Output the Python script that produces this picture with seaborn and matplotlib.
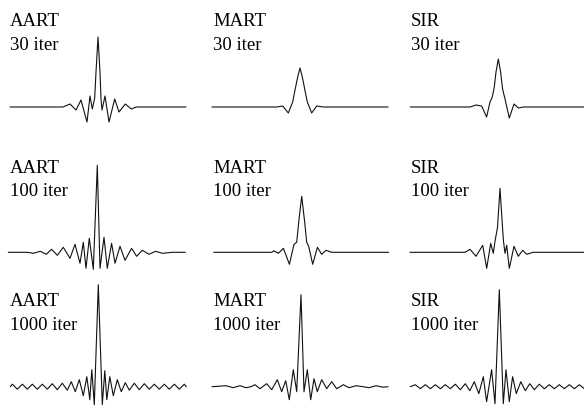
import matplotlib
matplotlib.use("Agg")
import matplotlib.pyplot as plt
import seaborn as sns
import pandas as pd

sns.set_theme(style="white")
plt.rcParams["font.family"] = ["Liberation Serif", "DejaVu Serif"]

methods = ["AART", "MART", "SIR"]
iterations = ["30 iter", "100 iter", "1000 iter"]

# profile samples: position (px from centre) and amplitude (px above baseline)
aart30_x = [-88, -40, -35, -28, -22, -17, -11, -8, -5.7, -3.3, -2, 0, 2, 3, 4, 7, 11, 16.7, 21, 27.3, 33.3, 38.3, 88]
aart30_y = [0, 0, 0, 3, -3, 7, -15, 11, -2, 9, 35, 70, 35, 8, -3, 11, -15, 8, -5, 3, -2, 0, 0]

mart30_x = [-88, -23, -17.3, -11.7, -7.3, -5, -2.3, 0, 2.3, 4.3, 7.3, 11.7, 16.7, 23.3, 88]
mart30_y = [0, 0, 1, -6, 5, 17, 30, 39, 30, 20, 5, -6, 1, 0, 0]

sir30_x = [-88, -28.3, -22.3, -16.7, -11.7, -8.3, -6, -4, -2.3, 0, 2.3, 4.3, 6.7, 11, 15.7, 20, 25, 90]
sir30_y = [0, 0, 2, 1, -10, 5, 10, 20, 35, 48, 35, 18, 8, -11, 3, -1, 0, 0]

aart100_x = [-89, -70, -64, -57, -51, -45.7, -40, -34, -27.3, -22.3, -17.3, -14, -11.3, -8, -4, 0,
             2.7, 6.7, 10, 14.3, 17.7, 22.7, 27.7, 34.3, 39.3, 45, 51.7, 58.3, 65, 75, 88]
aart100_y = [0, 0, -1, 1, -2, 3, -3, 5, -6, 8, -11, 10, -16, 14, -17, 87,
             -16, 15, -16, 9, -11, 6, -8, 4, -4, 2, -2, 1, -1, 0, 0]

mart100_x = [-88, -30, -28, -23.3, -18.3, -12.3, -7.7, -5, -3, 0, 3, 5, 7, 11, 15.7, 20, 24.3, 30, 87]
mart100_y = [0, 0, 1.5, -1, 4, -12, 8, 10, 30, 56, 30, 10, 6, -12, 5, -2, 2, 0, 0]

sir100_x = [-90, -35, -30, -24, -17.3, -13.3, -9.3, -6.7, -5, -2.5, 0, 2.5, 3.5, 5, 6.7, 9.3, 14, 18.3, 22.7, 26.7, 33, 88]
sir100_y = [0, 0, 3, -4, 7, -16, 9, -1, 11, 25, 64, 25, 11, -1, 7, -16, 6, -4, 2, -2, 0, 0]

aart1000_x = [-88, -86, -81, -76, -71, -66, -61, -56, -51, -46, -41, -36, -31, -27, -23, -19, -15, -11.5, -8.5, -6.5,
              -4, 0, 4, 6.5, 8.5, 11.5, 15, 19, 23, 27, 31, 36, 41, 46, 51, 56, 61, 66, 71, 76, 81, 86, 88]
aart1000_y = [0, 2.5, -2.5, 2.5, -2.5, 2.5, -2.5, 2.5, -2.5, 3, -3, 3.5, -3.5, 5, -5, 7, -9, 10, -13, 17,
              -18, 102, -18, 16, -13, 10, -9, 7, -5, 4, -3.5, 3.5, -3, 3, -2.5, 2.5, -2.5, 2.5, -2.5, 2.5, -2.5, 2.5, 0]

mart1000_x = [-89, -75, -68, -61, -55, -50, -46, -41, -34.3, -29.3, -23.7, -19.3, -15.3, -11.7, -7.7, -4.3, 0,
              3, 6.3, 9.7, 13, 16.3, 20.7, 25.7, 30.7, 35.7, 42.3, 48, 55, 62, 68, 75, 82, 87]
mart1000_y = [0, 1, -1, 1, -1, 0, 2, -2, 3, -3, 7, -5, 6, -13, 17, -5, 92,
              -5, 17, -13, 8, -5, 7, -2, 5, -2, 2, -1, 1, 0, -1, 1, -0.5, 0]

sir1000_x = [-89, -84, -79, -74, -69, -64, -59, -54, -49, -44, -39, -34, -29.5, -25, -20.5, -16, -12.7, -7.7, -4.3, 0,
             4, 6.7, 10, 13.3, 17, 21.5, 26, 30.5, 35, 40, 45, 50, 55, 60, 65, 70, 75, 80, 85, 90]
sir1000_y = [0, 2, -2, 2, -2, 2, -2, 2, -2, 2.5, -3, 3, -4, 5, -7, 10, -15, 17, -17, 97,
             -17, 17, -15, 10, -7, 5, -4, 3, -3, 2.5, -2, 2, -2, 2, -2, 2, -2, 2, -2, 2]

profiles = {
    ("AART", "30 iter"): (aart30_x, aart30_y),
    ("MART", "30 iter"): (mart30_x, mart30_y),
    ("SIR", "30 iter"): (sir30_x, sir30_y),
    ("AART", "100 iter"): (aart100_x, aart100_y),
    ("MART", "100 iter"): (mart100_x, mart100_y),
    ("SIR", "100 iter"): (sir100_x, sir100_y),
    ("AART", "1000 iter"): (aart1000_x, aart1000_y),
    ("MART", "1000 iter"): (mart1000_x, mart1000_y),
    ("SIR", "1000 iter"): (sir1000_x, sir1000_y),
}

W, H = 584, 409
fig = plt.figure(figsize=(W / 100, H / 100), dpi=100)
fig.patch.set_facecolor("white")

peak_x = [[98, 300, 498.3], [97.3, 301.7, 500], [98.3, 301, 499.3]]
base_y = [107, 252.3, 386.7]
label_x = [10, 213, 411]
label_base = [(26, 49.5), (173, 196), (305.5, 329.5)]
LEFT, RIGHT, BELOW, ABOVE = 95, 95, 25, 110

for r, it in enumerate(iterations):
    for c, m in enumerate(methods):
        xs, ys = profiles[(m, it)]
        cx, by = peak_x[r][c], base_y[r]
        ax = fig.add_axes([(cx - LEFT) / W, (H - (by + BELOW)) / H,
                           (LEFT + RIGHT) / W, (BELOW + ABOVE) / H])
        df = pd.DataFrame({"pos": xs, "amp": ys})
        sns.lineplot(data=df, x="pos", y="amp", ax=ax, sort=False, estimator=None,
                     color="#111111", linewidth=0.8)
        ax.set_xlim(-LEFT, RIGHT)
        ax.set_ylim(-BELOW, ABOVE)
        ax.axis("off")
        ax.patch.set_alpha(0)
        fig.text(label_x[c] / W, 1 - label_base[r][0] / H, m, fontsize=13.5,
                 va="baseline", ha="left", color="black")
        fig.text(label_x[c] / W, 1 - label_base[r][1] / H, it, fontsize=13.5,
                 va="baseline", ha="left", color="black")

fig.savefig("out.png", dpi=100)
